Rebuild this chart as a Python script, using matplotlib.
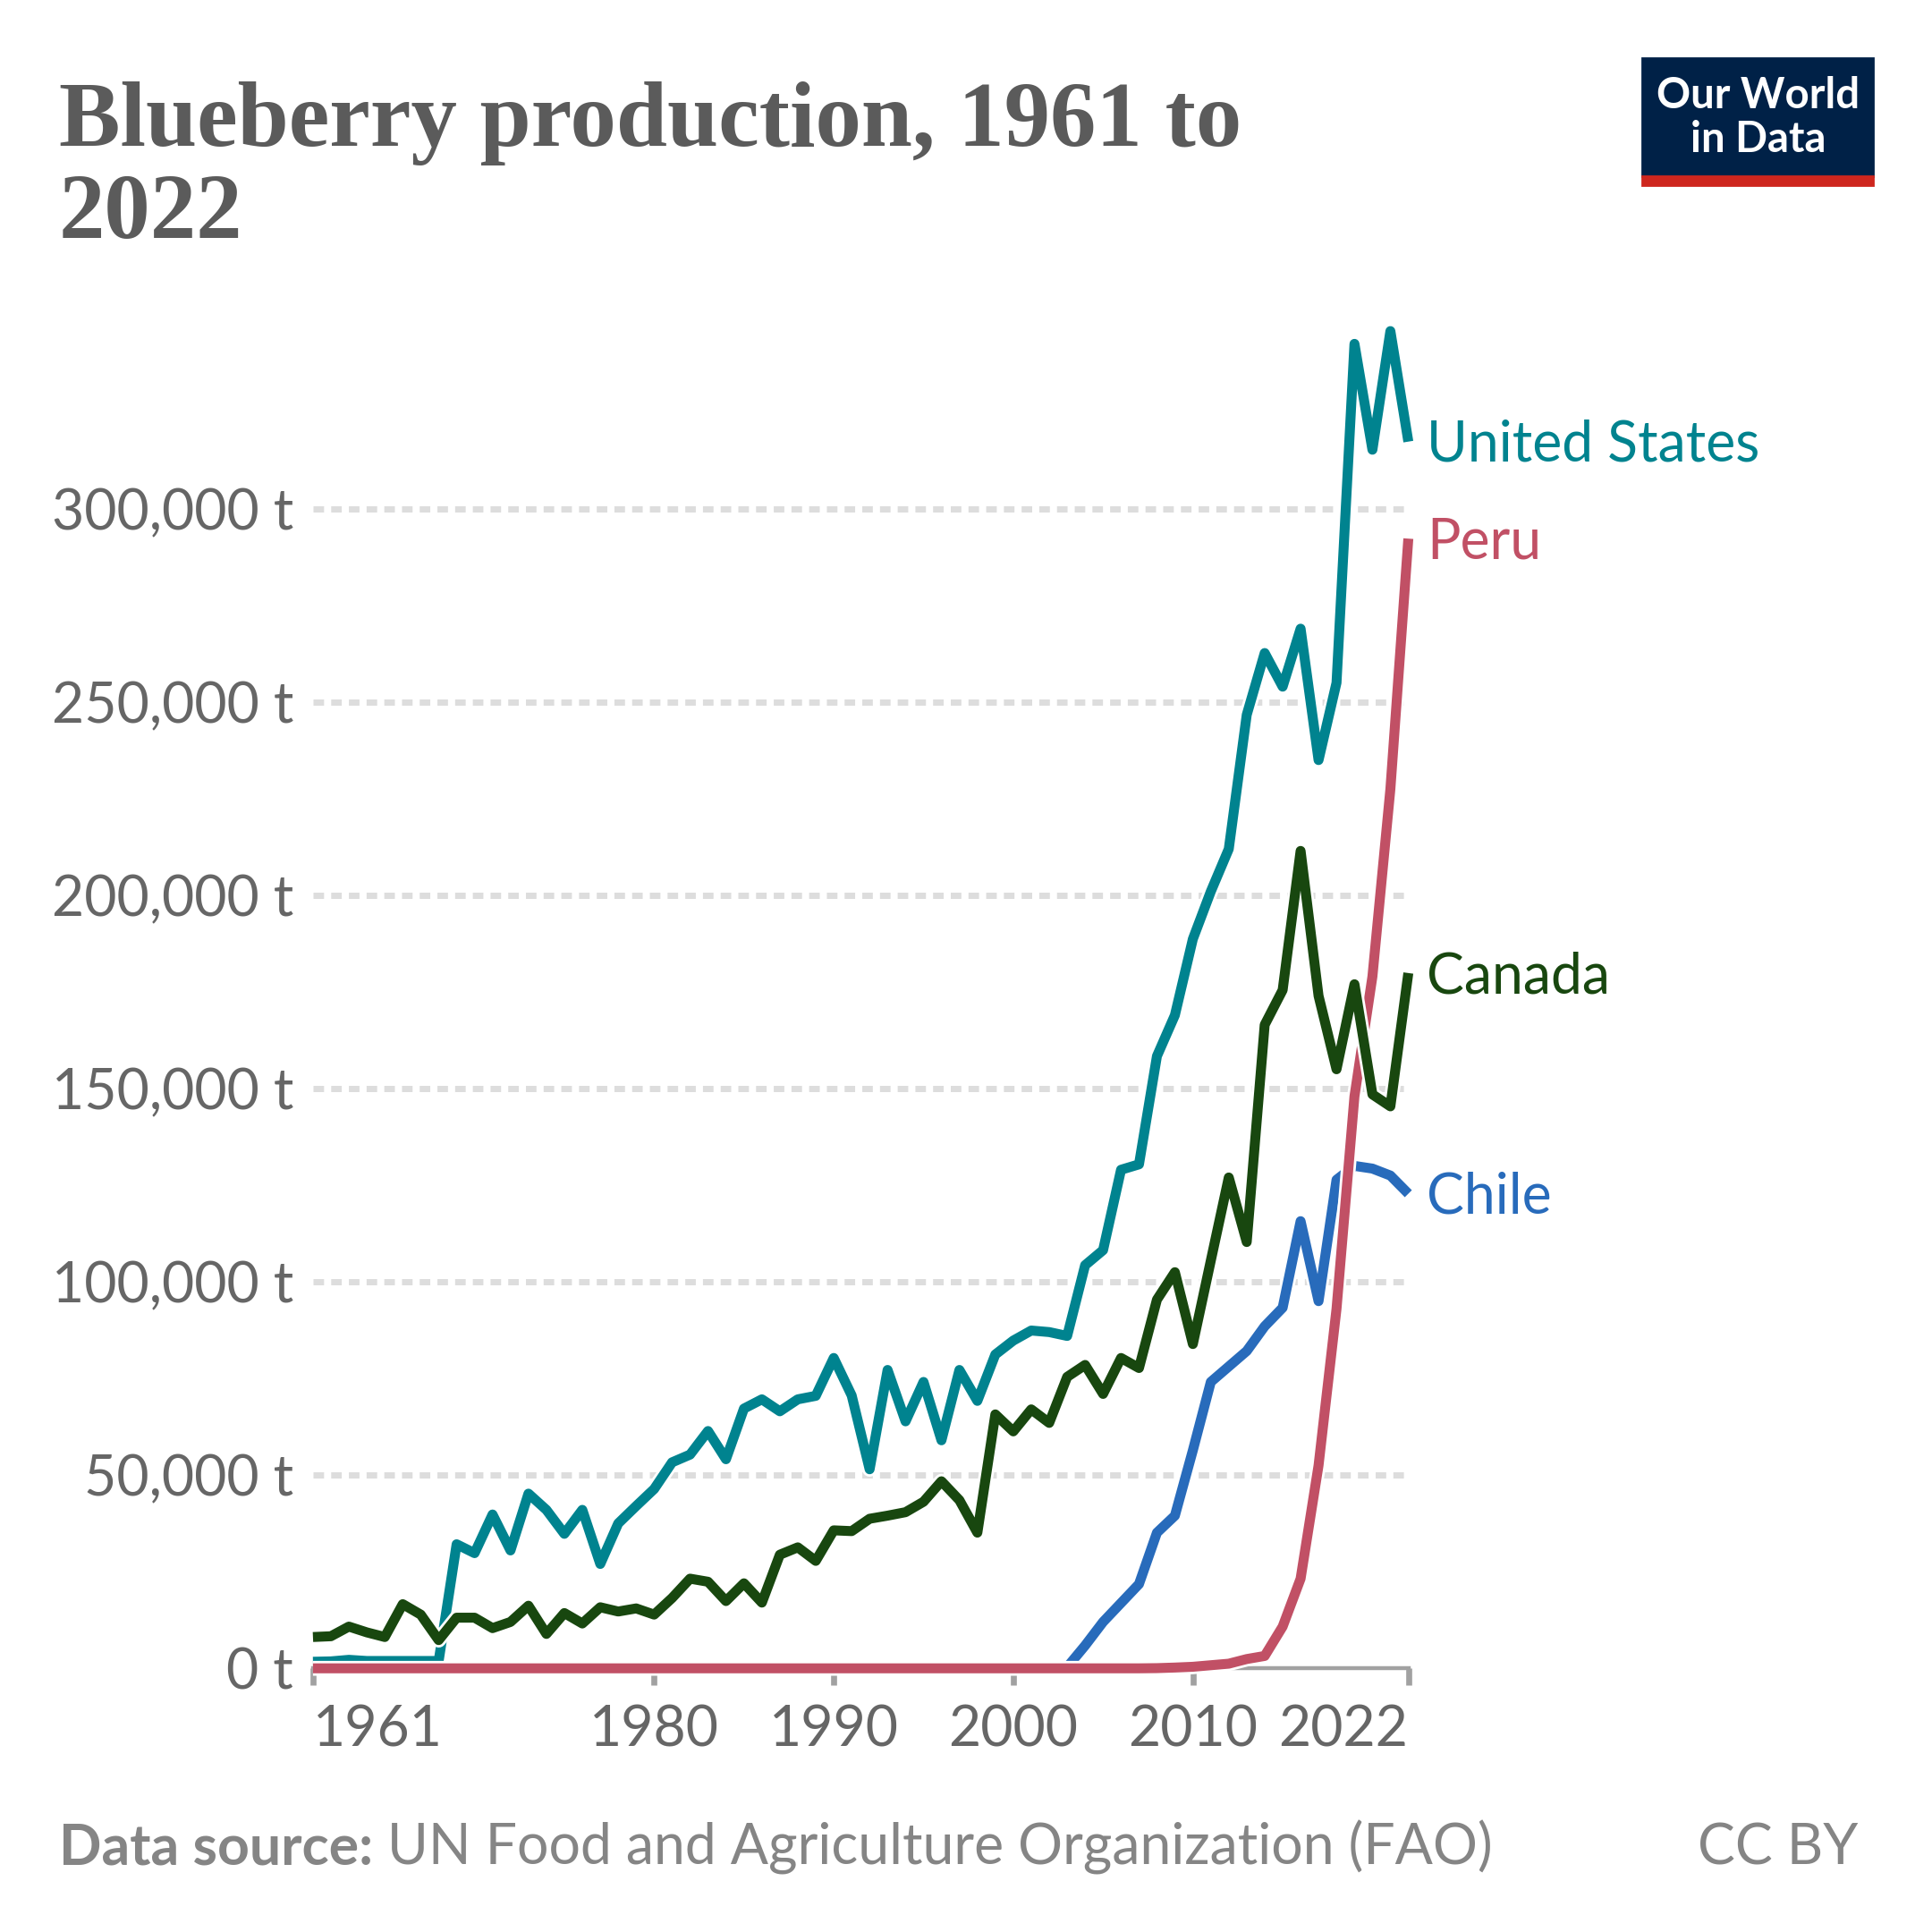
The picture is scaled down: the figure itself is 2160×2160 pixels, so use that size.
import matplotlib
matplotlib.use("Agg")
import matplotlib.pyplot as plt
import matplotlib.patheffects as pe
from matplotlib.patches import Rectangle

plt.rcParams["font.family"] = ["Lato", "DejaVu Sans"]

# blueberry production in tonnes
years = list(range(1961, 2023))

us = [1700, 1800, 2200, 1900, 1900, 1900, 1900, 1900, 32100, 29800,
      39800, 30500, 45200, 41000, 34800, 41000, 27000, 37500, 42000, 46400,
      53300, 55300, 61400, 54100, 67200, 69600, 66500, 69600, 70500, 80300,
      70600, 51500, 77200, 63900, 74100, 59000, 77200, 69200, 81200, 84800,
      87400, 87000, 86000, 104300, 108200, 129000, 130400, 158400, 169000, 188700,
      201000, 212000, 246700, 262700, 254000, 269000, 235000, 255000, 342700, 315300,
      346000, 317400]

canada = [8100, 8300, 10800, 9300, 8100, 16600, 13900, 7300, 13100, 13100,
          10400, 12000, 16200, 8900, 14300, 11600, 15800, 14700, 15500, 13900,
          18200, 23200, 22400, 17400, 22000, 17000, 29400, 31300, 27800, 35700,
          35500, 38700, 39500, 40400, 43100, 48400, 43500, 35100, 65700, 61300,
          67000, 63500, 75400, 78500, 71000, 80300, 77700, 95400, 102500, 83900,
          105500, 127000, 110300, 166500, 175500, 211500, 174000, 155000, 177000, 148500,
          145400, 179900]

peru = [0, 0, 0, 0, 0, 0, 0, 0, 0, 0,
        0, 0, 0, 0, 0, 0, 0, 0, 0, 0,
        0, 0, 0, 0, 0, 0, 0, 0, 0, 0,
        0, 0, 0, 0, 0, 0, 0, 0, 0, 0,
        0, 0, 0, 0, 0, 0, 0, 50, 200, 400,
        800, 1200, 2400, 3200, 10800, 23200, 52500, 93000, 148000, 179000,
        227500, 292300]

chile_years = list(range(2003, 2023))
chile = [300, 5900, 12000, 16900, 21800, 35100, 39500, 56400, 74100, 78100,
         82100, 88500, 93300, 115700, 95000, 126400, 130000, 129300, 127500, 122800]

yticks = [0, 50000, 100000, 150000, 200000, 250000, 300000]
ytick_labels = ["0 t", "50,000 t", "100,000 t", "150,000 t", "200,000 t", "250,000 t", "300,000 t"]
xticks = [1961, 1980, 1990, 2000, 2010, 2022]

W = 1568.0
fs = 22.5
fig = plt.figure(figsize=(10.8, 10.8), dpi=200)
ax = fig.add_axes([254 / W, 1 - 1354 / W, (1143 - 254) / W, 350 * 3.1367 / W])
ax.set_xlim(1961, 2022)
ax.set_ylim(0, 350000)

for s in ax.spines.values():
    s.set_visible(False)

# dotted grid
for v in yticks[1:]:
    ax.axhline(v, color="#dddddd", lw=2.5, dashes=(1.7, 1.15), zorder=1)
ax.axhline(0, color="#a1a1a1", lw=1.6, zorder=1.5, clip_on=False)

halo = [pe.Stroke(linewidth=6.0, foreground="white"), pe.Normal()]
series = [
    ("United States", years, us, "#00838f", 2),
    ("Chile", chile_years, chile, "#286bbb", 3),
    ("Peru", years, peru, "#c15065", 4),
    ("Canada", years, canada, "#18470f", 5),
]
for name, xs, ys, col, z in series:
    ax.plot(xs, ys, color=col, lw=4.0, solid_joinstyle="round", solid_capstyle="butt",
            zorder=z, clip_on=False, path_effects=halo)
    ax.annotate(name, xy=(xs[-1], ys[-1]), xytext=(7.4, -8.0), textcoords="offset points",
                ha="left", va="baseline", color=col, fontsize=fs)

ax.set_yticks(yticks)
ax.set_yticklabels(ytick_labels)
ax.tick_params(axis="y", length=0, pad=7.9, labelsize=fs, labelcolor="#666666")
ax.set_xticks(xticks)
ax.set_xticklabels([str(y) for y in xticks])
ax.tick_params(axis="x", length=7, width=2.4, color="#a1a1a1", pad=7.5,
               labelsize=fs, labelcolor="#666666")
xl = ax.get_xticklabels()
xl[0].set_ha("left")
xl[-1].set_ha("right")

# title
title_kw = dict(fontfamily=["Liberation Serif", "DejaVu Serif"], fontweight="bold",
                fontsize=37, color="#5b5b5b", va="baseline", ha="left")
fig.text(48 / W, 1 - 118 / W, "Blueberry production, 1961 to", **title_kw)
fig.text(48 / W, 1 - 193 / W, "2022", **title_kw)

# logo
fig.patches.append(Rectangle((1333 / W, 1 - 143 / W), 187 / W, 96 / W,
                             transform=fig.transFigure, color="#002147", zorder=0))
fig.patches.append(Rectangle((1333 / W, 1 - 150 / W), 187 / W, 7 / W,
                             transform=fig.transFigure, color="#ce261e", zorder=0))
fig.text(1427 / W, 1 - 78 / W, "Our World", ha="center", va="center", color="white",
         fontsize=17, fontweight="bold")
fig.text(1427 / W, 1 - 113 / W, "in Data", ha="center", va="center", color="white",
         fontsize=17, fontweight="bold")

# footer
fy = 1 - 1513 / W
t1 = fig.text(48 / W, fy, "Data source:", fontweight="bold", fontsize=fs,
              color="#858585", va="baseline")
fig.canvas.draw()
bb = t1.get_window_extent()
fig.text(bb.x1 / fig.bbox.width, fy, " UN Food and Agriculture Organization (FAO)",
         fontsize=fs, color="#858585", va="baseline")
fig.text(1508 / W, fy, "CC BY", fontsize=fs, color="#858585", va="baseline", ha="right")

fig.savefig("out.png", dpi=200)
